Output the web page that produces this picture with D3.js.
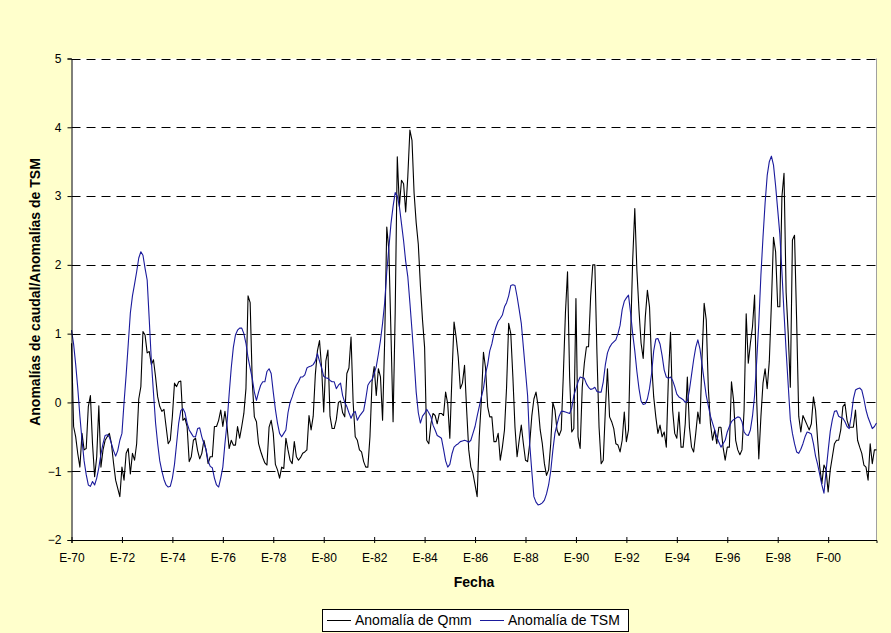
<!DOCTYPE html>
<html>
<head>
<meta charset="utf-8">
<script src="https://cdn.jsdelivr.net/npm/d3@7"></script>
<style>
    body { margin: 0; background: #ffffcc; }
    svg { display: block; font-family: "Liberation Sans", Arial, sans-serif; }
</style>
</head>
<body>
<svg></svg>
<script>
// monthly anomalies, Jan 1970 .. Dec 2001 (one row per year)
const qmm = [
    0.86, -0.35, -0.5, -0.75, -0.94, -0.45, -0.69, -0.67, -0.06, 0.1, -0.6, -1.08,
    -0.79, -0.05, -0.94, -0.69, -0.55, -0.5, -0.45, -0.6, -0.88, -1.13, -1.25, -1.37,
    -0.94, -1.13, -0.74, -0.67, -1.04, -0.74, -0.84, -0.6, 0.05, 0.23, 1.03, 0.98,
    0.72, 0.74, 0.55, 0.62, 0.37, 0.08, -0.06, -0.13, -0.1, -0.35, -0.6, -0.55,
    -0.2, 0.28, 0.23, 0.3, 0.31, -0.26, -0.23, -0.35, -0.86, -0.79, -0.55, -0.52,
    -0.7, -0.82, -0.74, -0.55, -0.69, -0.89, -0.79, -0.79, -0.35, -0.35, -0.26, -0.11,
    -0.35, -0.13, -0.35, -0.67, -0.55, -0.62, -0.62, -0.35, -0.52, -0.35, -0.16, 0.2,
    1.55, 1.45, 0.3, -0.21, -0.28, -0.6, -0.71, -0.8, -0.88, -0.91, -0.36, -0.26,
    -0.45, -0.9, -0.98, -1.1, -0.94, -0.96, -0.52, -0.69, -0.84, -0.89, -0.57, -0.79,
    -0.84, -0.8, -0.74, -0.72, -0.69, -0.19, -0.4, -0.2, 0.4, 0.75, 0.9, 0.5,
    -0.14, 0.6, 0.76, -0.2, -0.38, -0.38, -0.25, 0.0, 0.02, -0.15, -0.21, 0.42,
    0.5, 0.95, 0.0, -0.5, -0.55, -0.69, -0.72, -0.86, -0.94, -0.94, -0.5, 0.3,
    0.52, 0.1, 0.49, 0.37, -0.26, 0.9, 2.55, 2.21, 1.0, -0.28, 1.3, 3.57,
    2.85, 3.23, 3.18, 2.77, 3.28, 3.96, 3.81, 3.04, 2.61, 2.3, 1.7, 1.2,
    0.8, -0.55, -0.6, -0.31, -0.16, -0.19, -0.31, -0.16, -0.16, -0.19, 0.15, -0.02,
    -0.52, 0.37, 1.17, 0.95, 0.66, 0.2, 0.28, 0.54, -0.11, -0.69, -0.94, -1.03,
    -1.2, -1.37, -0.5, 0.03, 0.73, 0.5, -0.06, -0.21, -0.21, -0.57, -0.57, -0.45,
    -0.84, -0.65, -0.4, 0.22, 1.15, 1.0, 0.37, -0.36, -0.79, -0.55, -0.33, -0.6,
    -0.84, -0.86, -0.6, -0.2, 0.05, 0.15, -0.05, -0.4, -0.6, -0.89, -1.06, -0.98,
    -0.6, 0.0, -0.11, -0.4, -0.48, -0.4, 0.4, 1.3, 1.9, 0.37, -0.43, -0.38,
    1.51, -0.5, -0.67, 0.22, 0.57, 0.81, 0.81, 1.54, 2.0, 2.0, 0.71, -0.36,
    -0.89, -0.84, -0.11, 0.49, -0.21, -0.28, -0.38, -0.6, -0.62, -0.72, -0.55, -0.14,
    -0.57, -0.4, 0.95, 2.07, 2.82, 1.92, 1.34, 0.86, 0.64, 1.24, 1.63, 1.39,
    0.57, 0.08, -0.21, -0.45, -0.33, -0.5, -0.43, -0.65, 0.37, 1.02, -0.11, -0.45,
    -0.52, -0.14, -0.65, -0.65, -0.31, 0.37, -0.36, -0.65, -0.72, -0.45, -0.14, -0.31,
    0.66, 1.44, 1.2, 0.2, -0.31, -0.55, -0.4, -0.6, -0.36, -0.36, -0.65, -0.84,
    -0.65, -0.65, 0.3, 0.03, -0.55, -0.69, -0.76, -0.69, -0.11, 1.29, 0.57, 0.86,
    1.1, 1.56, 0.03, -0.82, -0.21, 0.28, 0.49, 0.2, 0.6, 1.44, 2.4, 2.19,
    1.39, 1.39, 2.99, 3.33, 1.6, 1.0, 0.22, 2.36, 2.43, 1.2, -0.2, -0.43,
    -0.19, -0.26, -0.33, -0.4, -0.31, 0.08, -0.11, -0.55, -0.94, -1.18, -0.91, -0.98,
    -1.3, -0.98, -0.79, -0.6, -0.55, -0.55, -0.4, -0.06, -0.02, -0.26, -0.36, -0.36,
    -0.36, -0.11, -0.55, -0.65, -0.74, -0.91, -0.94, -1.13, -0.6, -0.89, -0.69, -0.69
];
const tsm = [
    1.05, 0.85, 0.55, 0.2, -0.2, -0.55, -0.85, -1.05, -1.2, -1.22, -1.15, -1.2,
    -1.1, -0.95, -0.75, -0.6, -0.48, -0.47, -0.5, -0.6, -0.7, -0.78, -0.7, -0.55,
    -0.45, 0.0, 0.4, 0.85, 1.3, 1.55, 1.72, 1.9, 2.1, 2.19, 2.14, 1.95,
    1.78, 1.2, 0.6, 0.14, -0.3, -0.6, -0.85, -1.0, -1.12, -1.2, -1.23, -1.22,
    -1.1, -0.9, -0.6, -0.3, -0.12, -0.09, -0.15, -0.3, -0.4, -0.45, -0.5, -0.5,
    -0.38, -0.37, -0.5, -0.6, -0.68, -0.85, -0.93, -0.95, -1.1, -1.2, -1.23, -1.1,
    -0.94, -0.6, -0.3, 0.12, 0.5, 0.8, 0.98, 1.05, 1.08, 1.08, 1.0, 0.86,
    0.65, 0.5, 0.35, 0.15, 0.03, 0.15, 0.25, 0.3, 0.3, 0.45, 0.49, 0.42,
    0.15, -0.1, -0.3, -0.45, -0.5, -0.45, -0.4, -0.15, 0.0, 0.08, 0.18, 0.25,
    0.3, 0.37, 0.37, 0.4, 0.5, 0.52, 0.53, 0.55, 0.6, 0.71, 0.6, 0.5,
    0.38, 0.36, 0.35, 0.32, 0.3, 0.3, 0.2, 0.25, 0.28, 0.1, 0.0, -0.06,
    -0.15, -0.23, -0.16, -0.13, -0.26, -0.2, -0.16, -0.12, 0.05, 0.25, 0.3, 0.33,
    0.42, 0.52, 0.7, 0.9, 1.15, 1.45, 1.9, 2.25, 2.6, 2.85, 3.05, 3.0,
    2.85, 2.6, 2.35, 2.05, 1.83, 1.45, 1.05, 0.62, 0.15, -0.15, -0.3, -0.2,
    -0.16, -0.1, -0.15, -0.21, -0.33, -0.4, -0.48, -0.5, -0.52, -0.68, -0.85, -0.94,
    -0.9, -0.75, -0.65, -0.62, -0.6, -0.57, -0.56, -0.55, -0.56, -0.58, -0.55, -0.45,
    -0.35, -0.2, -0.06, 0.08, 0.2, 0.42, 0.55, 0.75, 0.85, 1.0, 1.1, 1.18,
    1.22, 1.27, 1.39, 1.45, 1.55, 1.7, 1.71, 1.7, 1.54, 1.35, 1.15, 0.8,
    0.45, 0.1, -0.6, -1.0, -1.37, -1.45, -1.49, -1.48, -1.46, -1.42, -1.33, -1.2,
    -1.0, -0.7, -0.45, -0.32, -0.2, -0.13, -0.13, -0.14, -0.15, -0.16, -0.08, 0.1,
    0.2, 0.3, 0.37, 0.36, 0.35, 0.27, 0.22, 0.19, 0.2, 0.22, 0.16, 0.15,
    0.15, 0.3, 0.55, 0.72, 0.8, 0.85, 0.88, 0.91, 1.0, 1.12, 1.35, 1.47,
    1.52, 1.56, 1.3, 1.0, 0.75, 0.45, 0.2, 0.02, -0.03, -0.02, 0.05, 0.2,
    0.42, 0.75, 0.92, 0.93, 0.85, 0.68, 0.47, 0.37, 0.35, 0.37, 0.32, 0.23,
    0.12, 0.08, 0.06, 0.04, 0.0, 0.02, 0.18, 0.4, 0.62, 0.8, 0.91, 0.78,
    0.55, 0.32, 0.1, -0.05, -0.2, -0.3, -0.4, -0.5, -0.58, -0.65, -0.6, -0.55,
    -0.43, -0.35, -0.28, -0.25, -0.23, -0.21, -0.22, -0.28, -0.43, -0.47, -0.48, -0.4,
    -0.2, 0.1, 0.6, 1.15, 1.85, 2.4, 2.9, 3.3, 3.5, 3.58, 3.45, 3.15,
    2.8, 2.45, 1.9, 1.3, 0.75, 0.25, -0.25, -0.45, -0.6, -0.72, -0.74, -0.68,
    -0.6, -0.5, -0.43, -0.44, -0.46, -0.6, -0.78, -0.9, -1.05, -1.2, -1.32, -1.0,
    -0.7, -0.42, -0.25, -0.13, -0.12, -0.2, -0.22, -0.23, -0.28, -0.35, -0.38, -0.2,
    0.05, 0.18, 0.2, 0.21, 0.18, 0.05, -0.11, -0.22, -0.3, -0.38, -0.35, -0.3
];
const tickLabels = ['E-70', 'E-72', 'E-74', 'E-76', 'E-78', 'E-80', 'E-82', 'E-84',
    'E-86', 'E-88', 'E-90', 'E-92', 'E-94', 'E-96', 'E-98', 'F-00'];
const yTicks = [-2, -1, 0, 1, 2, 3, 4, 5];
const seriesNames = ['Anomalía de Qmm', 'Anomalía de TSM'];
const seriesColors = ['#000000', '#1a1a9c'];

const width = 891, height = 633;
const plot = { left: 71.5, right: 876.5, top: 58.5, bottom: 540 };

const svg = d3.select('svg')
    .attr('width', width)
    .attr('height', height);

svg.append('rect')
    .attr('width', width)
    .attr('height', height)
    .attr('fill', '#ffffcc');

const x = d3.scaleLinear()
    .domain([0, qmm.length - 1])
    .range([plot.left, plot.right]);
const y = d3.scaleLinear()
    .domain([-2, 5])
    .range([plot.bottom, plot.top]);

// plot area
svg.append('rect')
    .attr('x', plot.left)
    .attr('y', plot.top)
    .attr('width', plot.right - plot.left)
    .attr('height', plot.bottom - plot.top)
    .attr('fill', '#ffffff');
svg.append('line')
    .attr('x1', plot.right).attr('x2', plot.right)
    .attr('y1', plot.top).attr('y2', plot.bottom)
    .attr('stroke', '#a0a0a0');

// dashed gridlines
svg.append('g')
    .selectAll('line')
    .data(yTicks.filter(d => d > -2))
    .enter()
    .append('line')
    .attr('x1', plot.left)
    .attr('x2', plot.right)
    .attr('y1', d => Math.round(y(d)) + 0.5)
    .attr('y2', d => Math.round(y(d)) + 0.5)
    .attr('stroke', '#000')
    .attr('stroke-dasharray', '9,6');

// lines
const line = d3.line()
    .x((d, i) => x(i))
    .y(d => y(d));
[qmm, tsm].forEach((series, k) => {
    svg.append('path')
        .datum(series)
        .attr('fill', 'none')
        .attr('stroke', seriesColors[k])
        .attr('stroke-width', 1.1)
        .attr('stroke-linejoin', 'round')
        .attr('d', line);
});

// axes
const yAxis = svg.append('g')
    .attr('transform', `translate(${plot.left},0)`)
    .call(d3.axisLeft(y).tickValues(yTicks).tickFormat(d3.format('d')).tickSize(4).tickPadding(6));
const xAxis = svg.append('g')
    .attr('transform', `translate(0,${plot.bottom})`)
    .call(d3.axisBottom(x)
        .tickValues(tickLabels.map((d, i) => i * 24))
        .tickFormat((d, i) => tickLabels[i])
        .tickSize(3));
xAxis.selectAll('.tick line').attr('y1', -3);
xAxis.selectAll('.tick text').attr('y', 22).attr('dy', null);

[xAxis, yAxis].forEach(g => {
    g.select('.domain').attr('stroke', '#000');
    g.selectAll('.tick line').attr('stroke', '#000');
    g.selectAll('.tick text')
        .attr('fill', '#000')
        .attr('font-size', '12px')
        .attr('font-family', '"Liberation Sans", Arial, sans-serif');
});

// axis titles
svg.append('text')
    .attr('x', 474)
    .attr('y', 587)
    .attr('text-anchor', 'middle')
    .attr('font-size', '14px')
    .attr('font-weight', 'bold')
    .text('Fecha');
svg.append('text')
    .attr('transform', 'translate(40,292) rotate(-90)')
    .attr('text-anchor', 'middle')
    .attr('font-size', '14px')
    .attr('font-weight', 'bold')
    .text('Anomalías de caudal/Anomalías de TSM');

// legend
const legend = svg.append('g');
legend.append('rect')
    .attr('x', 322.5)
    .attr('y', 609.5)
    .attr('width', 306)
    .attr('height', 22)
    .attr('fill', '#ffffff')
    .attr('stroke', '#000');
const legendX = [327, 480];
seriesNames.forEach((name, k) => {
    legend.append('line')
        .attr('x1', legendX[k])
        .attr('x2', legendX[k] + 24)
        .attr('y1', 620.5)
        .attr('y2', 620.5)
        .attr('stroke', seriesColors[k]);
    legend.append('text')
        .attr('x', legendX[k] + 28)
        .attr('y', 625)
        .attr('font-size', '14px')
        .text(name);
});
</script>
</body>
</html>
